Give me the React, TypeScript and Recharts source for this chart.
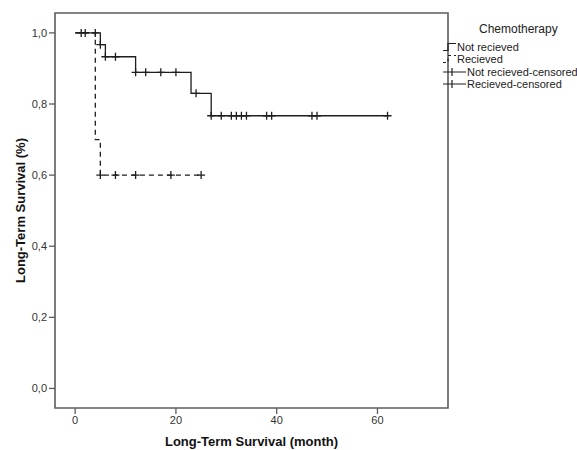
import React from "react"
import { ComposedChart, Line, Scatter, XAxis, YAxis, ReferenceArea, Label } from "recharts"

// Kaplan-Meier steps (month, survival)
const notRecievedTime = [0, 5, 6, 12, 23, 27, 62]
const notRecievedSurv = [1, 0.967, 0.933, 0.889, 0.83, 0.767, 0.767]
const recievedTime = [0, 4, 5, 25]
const recievedSurv = [1, 0.7, 0.6, 0.6]

// censored marks
const notRecCensTime = [1.2, 2, 4, 5, 6, 8, 12, 14, 17, 20, 24, 27, 29, 31, 32, 33, 34, 38, 39, 47, 48, 62]
const notRecCensSurv = [1, 1, 1, 0.967, 0.933, 0.933, 0.889, 0.889, 0.889, 0.889, 0.83, 0.767, 0.767, 0.767, 0.767, 0.767, 0.767, 0.767, 0.767, 0.767, 0.767, 0.767]
const recCensTime = [5, 8, 12, 19, 25]
const recCensSurv = [0.6, 0.6, 0.6, 0.6, 0.6]

const xTicks = [0, 20, 40, 60]
const yTicks = [0, 0.2, 0.4, 0.6, 0.8, 1.0]

const legendItems = ["Not recieved", "Recieved", "Not recieved-censored", "Recieved-censored"]

const INK = "#1e1e1e"
const FRAME = "#5c5c5c"
const FONT = "'Liberation Sans', Arial, sans-serif"

const zip = (t: number[], s: number[]) => t.map((v, i) => ({ t: v, s: s[i] }))

function CensorMark(props: any) {
    const { cx, cy } = props
    if (cx == null || cy == null) return null
    return (
        <path d={`M${cx - 4},${cy}H${cx + 4}M${cx},${cy - 4}V${cy + 4}`} stroke={INK} strokeWidth={1.3} fill="none" />
    )
}

function LegendIcon({ index }: { index: number }) {
    if (index < 2) {
        return (
            <svg width={14} height={10} style={{ display: "block" }}>
                <path d="M0,8.5H5V1.5H13" stroke={INK} strokeWidth={1.2} fill="none" strokeDasharray={index === 1 ? "3 3" : undefined} />
            </svg>
        )
    }
    return (
        <svg width={24} height={10} style={{ display: "block" }}>
            <path d="M0,5H23M9,1V9" stroke={INK} strokeWidth={1.2} fill="none" />
        </svg>
    )
}

export default function App() {
    return (
        <div style={{ position: "absolute", left: 0, top: 0, width: 577, height: 450, background: "#fff", fontFamily: FONT }}>
            <ComposedChart width={577} height={450} margin={{ top: 13, right: 129, bottom: 0, left: 0 }}>
                <XAxis
                    type="number"
                    dataKey="t"
                    domain={[-4, 74]}
                    ticks={xTicks}
                    axisLine={false}
                    tickSize={6}
                    tickLine={{ stroke: FRAME, strokeWidth: 1.3 }}
                    tick={{ fill: "#333", fontSize: 11, fontFamily: FONT }}
                    height={42}
                    allowDataOverflow
                >
                    <Label value="Long-Term Survival (month)" position="insideBottom" offset={4} style={{ fontWeight: "bold", fontSize: 13, fill: "#111", fontFamily: FONT }} />
                </XAxis>
                <YAxis
                    type="number"
                    dataKey="s"
                    domain={[-0.055, 1.056]}
                    ticks={yTicks}
                    axisLine={false}
                    tickSize={6}
                    tickLine={{ stroke: FRAME, strokeWidth: 1.3 }}
                    tickFormatter={(v: number) => v.toFixed(1).replace(".", ",")}
                    tick={{ fill: "#333", fontSize: 11, fontFamily: FONT }}
                    width={55}
                    allowDataOverflow
                >
                    <Label value="Long-Term Survival (%)" position="insideLeft" angle={-90} offset={20} style={{ textAnchor: "middle", fontWeight: "bold", fontSize: 13, fill: "#111", fontFamily: FONT }} />
                </YAxis>
                <ReferenceArea x1={-4} x2={74} y1={-0.055} y2={1.056} fill="none" stroke={FRAME} strokeWidth={1.6} ifOverflow="visible" />
                <Line data={zip(notRecievedTime, notRecievedSurv)} dataKey="s" type="stepAfter" stroke={INK} strokeWidth={1.3} dot={false} activeDot={false} isAnimationActive={false} />
                <Line data={zip(recievedTime, recievedSurv)} dataKey="s" type="stepAfter" stroke={INK} strokeWidth={1.3} strokeDasharray="5 4" dot={false} activeDot={false} isAnimationActive={false} />
                <Scatter data={zip(notRecCensTime, notRecCensSurv)} dataKey="s" shape={CensorMark} isAnimationActive={false} />
                <Scatter data={zip(recCensTime, recCensSurv)} dataKey="s" shape={CensorMark} isAnimationActive={false} />
            </ComposedChart>
            <div style={{ position: "absolute", left: 443, top: 22, color: "#222" }}>
                <div style={{ fontSize: 12, marginLeft: 36, marginBottom: 5, lineHeight: "14px" }}>Chemotherapy</div>
                {legendItems.map((name, i) => (
                    <div key={name} style={{ display: "flex", alignItems: "center", height: 12.3, fontSize: 11, whiteSpace: "nowrap" }}>
                        <LegendIcon index={i} />
                        <span>{name}</span>
                    </div>
                ))}
            </div>
        </div>
    )
}
